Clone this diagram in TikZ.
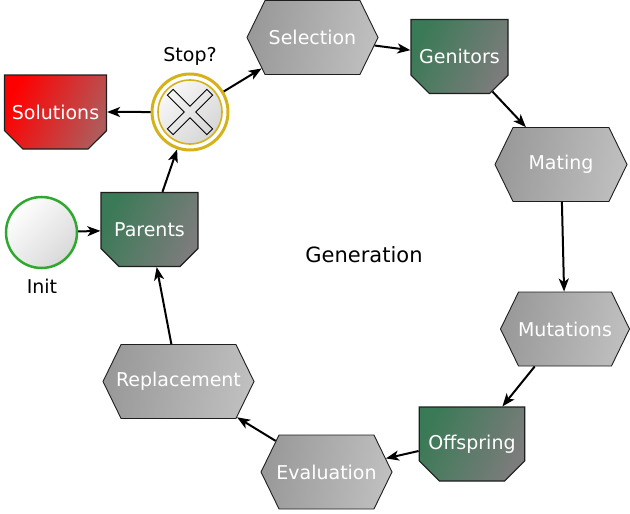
\documentclass[tikz,border=0pt]{standalone}
\usepackage{fontspec}
\setmainfont{DejaVu Sans}
\usetikzlibrary{shapes.misc,shapes.symbols,arrows.meta}
\definecolor{hexL}{HTML}{999999}
\definecolor{hexR}{HTML}{BFBFBF}
\definecolor{grnA}{HTML}{3A7A56}
\definecolor{grnB}{HTML}{7C7C7C}
\definecolor{redA}{HTML}{FF0000}
\definecolor{redB}{HTML}{B05A5A}
\definecolor{gold}{HTML}{D6B21A}
\definecolor{initG}{HTML}{2EA82E}
\definecolor{edgeK}{HTML}{1E1E1E}
\begin{document}
\begin{tikzpicture}[x=1pt,y=-1pt,
  txt/.style={font=\fontsize{19}{22}\selectfont},
  hexbox/.style={txt, text=white, signal, signal to=west and east,
    signal pointer angle=128, minimum height=74pt, inner ysep=0pt, inner xsep=-10pt,
    draw=edgeK, line width=0.9pt, left color=hexL, right color=hexR, shading angle=80},
  docbox/.style={txt, text=white, chamfered rectangle,
    chamfered rectangle corners={south west,south east}, chamfered rectangle xsep=12pt,
    chamfered rectangle ysep=11pt, minimum width=97pt, minimum height=74pt, inner sep=0pt,
    draw=edgeK, line width=1.2pt, top color=#1A, bottom color=#1B, shading angle=65},
  docbox/.default=grn,
  conn/.style={draw=black, line width=2pt, -{Stealth[length=13pt,width=10pt,inset=3.5pt]}},
]
\useasboundingbox (0,0) rectangle (630,514);

% hexagons
\node[hexbox, minimum width=131pt] (sel) at (312.5,37.5) {Selection};
\node[hexbox, minimum width=132pt] (mat) at (561,164.5) {Mating};
\node[hexbox, minimum width=129pt] (mut) at (565,329) {Mutations};
\node[hexbox, minimum width=131pt] (eva) at (326.5,472) {Evaluation};
\node[hexbox, minimum width=151pt] (rep) at (178.5,381.5) {Replacement};

% document boxes
\node[docbox] (gen) at (459.5,56.5) {Genitors};
\node[docbox] (off) at (472,444) {Offspring};
\node[docbox] (par) at (149.5,229.5) {Parents};
\node[docbox=red] (sol) at (55.5,112) {Solutions};

% init event
\node[circle, minimum size=71pt, inner sep=0pt, draw=initG, line width=2.5pt,
  top color=white, bottom color=black!15, shading angle=45] (init) at (41.5,232.5) {};
\node[txt, text=black] (initl) at (42,286) {Init};

% stop gateway
\node[circle, minimum size=76pt, inner sep=0pt, draw=gold, line width=3pt, fill=white] (stop) at (190,112) {};
\draw[gold, line width=1.6pt, top color=black!3, bottom color=black!16, shading angle=45]
  (stop.center) circle (32);
\draw[black, line width=0.9pt, shift={(stop.center)}, rotate=45]
  (28,4) -- (4,4) -- (4,28) -- (-4,28) -- (-4,4) -- (-28,4) -- (-28,-4) -- (-4,-4)
  -- (-4,-28) -- (4,-28) -- (4,-4) -- (28,-4) -- cycle;
\node[txt, text=black] (stopl) at (190,56) {Stop?};

% lane label
\node[font=\fontsize{21}{24}\selectfont] (genl) at (364,255) {Generation};

% connectors
\draw[conn] (init) -- (par);
\draw[conn] (par) -- (stop);
\draw[conn] (stop) -- (sol);
\draw[conn] (stop) -- (sel);
\draw[conn] (sel) -- (gen);
\draw[conn] (gen) -- (mat);
\draw[conn] (mat) -- (mut);
\draw[conn] (mut) -- (off);
\draw[conn] ([yshift=-7pt]off.west) -- (eva);
\draw[conn] (eva) -- (rep);
\draw[conn] (rep) -- (par);
\end{tikzpicture}
\end{document}
